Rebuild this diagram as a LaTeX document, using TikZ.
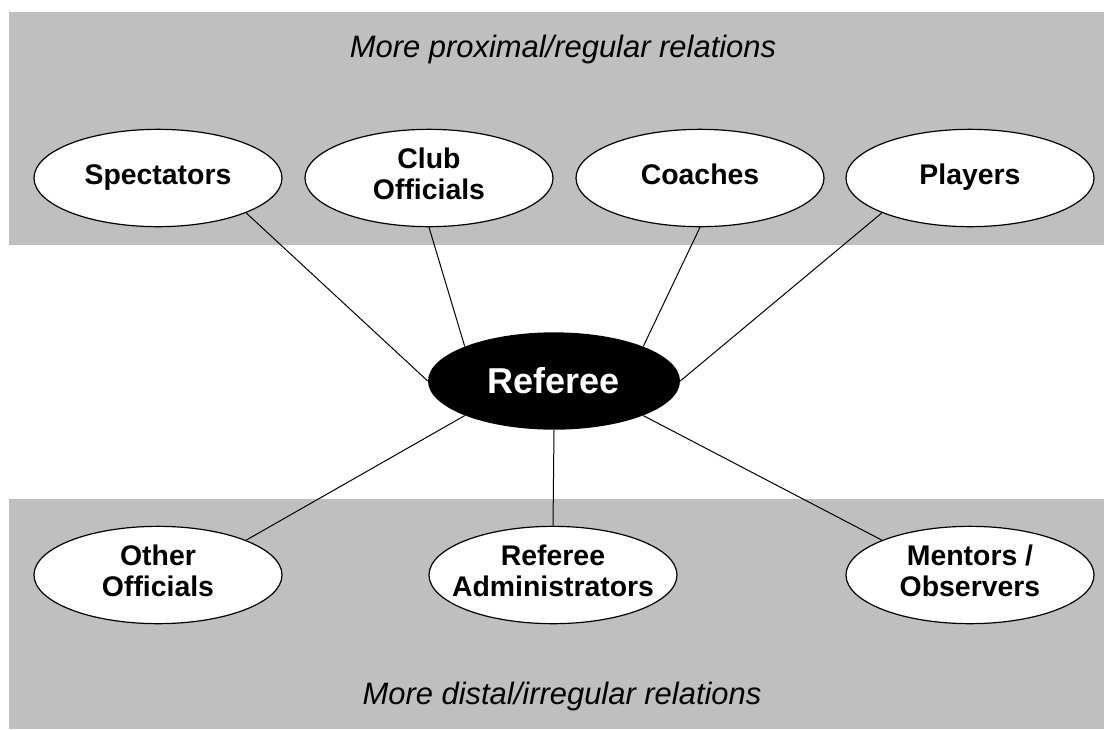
\documentclass[tikz,border=0pt]{standalone}
\usepackage{fontspec}
\setmainfont{Liberation Sans}
\usetikzlibrary{shapes.geometric}
\definecolor{bandgray}{RGB}{191,191,191}
\newcommand{\slim}[1]{\makebox[0pt]{\begin{tabular}{@{}c@{}}#1\end{tabular}}}

\begin{document}
\begin{tikzpicture}[x=.75pt,y=-.75pt,
	oval/.style={ellipse,draw,line width=.9pt,fill=white,minimum width=186pt,minimum height=73pt,inner sep=0pt,font=\fontsize{21.3}{22.8}\selectfont\bfseries},
	tie/.style={line width=.75pt}]
	\useasboundingbox (0,0) rectangle (1104,729);
	\fill[bandgray] (9,12) rectangle (1104,245);
	\fill[bandgray] (9,499) rectangle (1104,729);
	\node at (563,57) [anchor=base,font=\fontsize{23.2}{26}\selectfont\itshape] (proximal) {More proximal/regular relations};
	\node at (562,704) [anchor=base,font=\fontsize{23.2}{26}\selectfont\itshape] (distal) {More distal/irregular relations};
	% upper row
	\node[oval] (spectators) at (158,178) {\slim{Spectators}};
	\node[oval] (club) at (429,178) {\slim{Club\\Officials}};
	\node[oval] (coaches) at (700,178) {\slim{Coaches}};
	\node[oval] (players) at (970,178) {\slim{Players}};
	% lower row
	\node[oval] (other) at (158,575) {\slim{Other\\Officials}};
	\node[oval] (admin) at (553,575) {\slim{Referee\\Administrators}};
	\node[oval] (mentors) at (970,575) {\slim{Mentors /\\Observers}};
	\node[ellipse,fill=black,minimum width=189pt,minimum height=73pt,inner sep=0pt,text=white,font=\fontsize{27}{30}\selectfont\bfseries] (referee) at (554,381) {Referee};
	\draw[tie] (spectators.south east) -- (referee.west);
	\draw[tie] (club.south) -- (referee.north west);
	\draw[tie] (coaches.south) -- (referee.north east);
	\draw[tie] (players.south west) -- (referee.east);
	\draw[tie] (other.north east) -- (referee.south west);
	\draw[tie] (admin.north) -- (referee.south);
	\draw[tie] (mentors.north west) -- (referee.south east);
\end{tikzpicture}
\end{document}
